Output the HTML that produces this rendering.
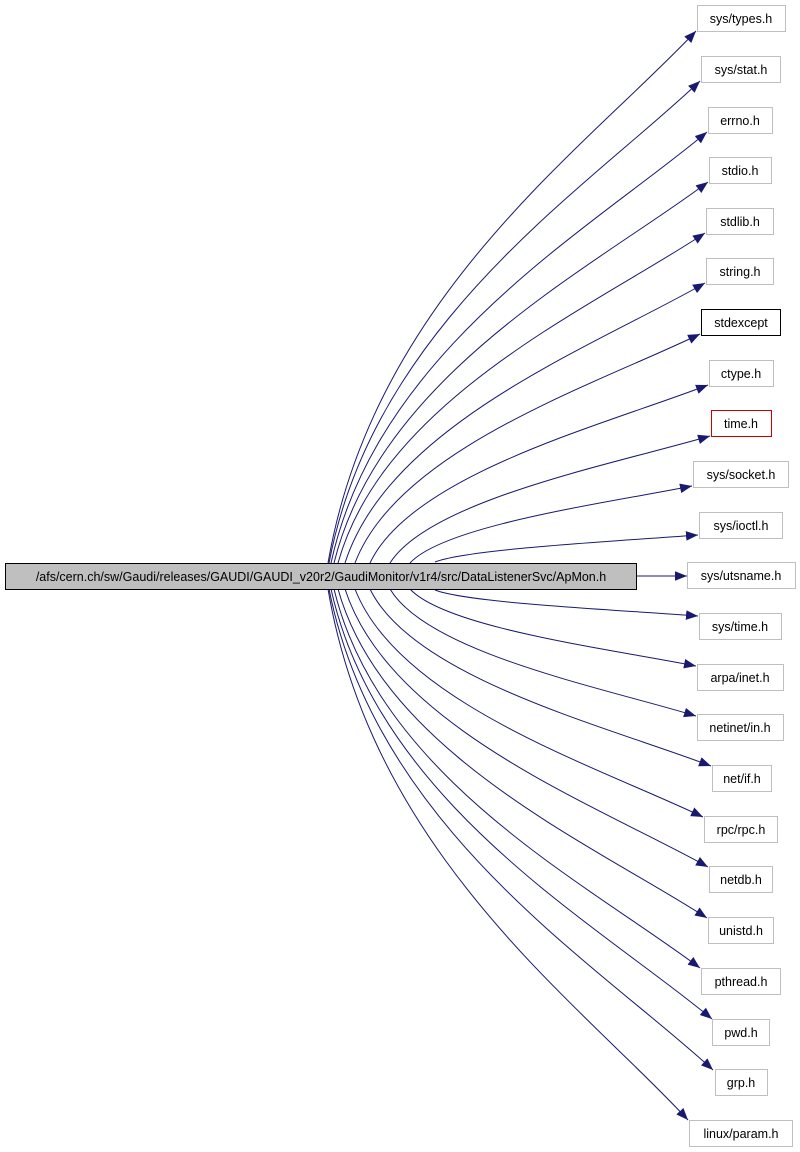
<!DOCTYPE html>
<html><head><meta charset="utf-8"><style>
body{margin:0;background:#fff;}
svg{display:block;}
text{font-family:"Liberation Sans",sans-serif;font-size:12.5px;}
</style></head><body>
<svg width="800" height="1152" viewBox="0 0 800 1152" xmlns="http://www.w3.org/2000/svg">
<defs><marker id="a" viewBox="0 0 10 8" refX="10" refY="4" markerWidth="12" markerHeight="10" markerUnits="userSpaceOnUse" orient="auto"><path d="M0,0L10,4L0,8z" fill="#191970"/></marker></defs>
<g fill="none" stroke="#191970" stroke-width="1" marker-end="url(#a)">
<path d="M637,576 L687,576"/>
<path d="M328,563 C374,297 586,148 696,31"/>
<path d="M329,563 C375,322 589,187 700,81"/>
<path d="M331,563 C378,348 594,227 707,132"/>
<path d="M334,563 C381,373 596,266 708,182"/>
<path d="M338,563 C384,398 595,306 705,233"/>
<path d="M345,563 C390,423 597,345 705,283"/>
<path d="M355,563 C398,449 597,384 700,334"/>
<path d="M370,563 C412,474 607,424 708,385"/>
<path d="M390,563 C430,500 614,464 710,436"/>
<path d="M410,563 C445,525 607,503 692,486"/>
<path d="M435,562 C468,549 619,541 698,535"/>
<path d="M435,590 C468,603 619,610 698,616"/>
<path d="M410,589 C446,628 610,649 696,666"/>
<path d="M390,589 C428,653 604,688 696,716"/>
<path d="M370,589 C413,678 609,727 711,766"/>
<path d="M355,589 C399,703 599,767 703,817"/>
<path d="M345,589 C390,728 599,806 708,867"/>
<path d="M338,589 C384,754 596,846 707,918"/>
<path d="M334,589 C380,779 590,885 700,968"/>
<path d="M331,589 C379,804 598,924 712,1019"/>
<path d="M329,589 C377,830 598,964 713,1070"/>
<path d="M328,589 C373,855 580,1003 688,1120"/>
</g>
<rect x="5.5" y="563.5" width="631" height="26" fill="#bfbfbf" stroke="#000"/>
<text x="321" y="581" text-anchor="middle">/afs/cern.ch/sw/Gaudi/releases/GAUDI/GAUDI_v20r2/GaudiMonitor/v1r4/src/DataListenerSvc/ApMon.h</text>
<g fill="#fff" stroke="#bfbfbf">
<rect x="697.5" y="5.5" width="88" height="26"/>
<rect x="701.5" y="56.5" width="79" height="26"/>
<rect x="708.5" y="107.5" width="64" height="26"/>
<rect x="709.5" y="157.5" width="62" height="26"/>
<rect x="706.5" y="208.5" width="67" height="26"/>
<rect x="706.5" y="258.5" width="67" height="26"/>
<rect x="701.5" y="309.5" width="79" height="26" stroke="#000"/>
<rect x="709.5" y="360.5" width="64" height="26"/>
<rect x="711.5" y="410.5" width="60" height="26" stroke="#c00"/>
<rect x="693.5" y="461.5" width="95" height="26"/>
<rect x="699.5" y="512.5" width="83" height="26"/>
<rect x="687.5" y="562.5" width="108" height="26"/>
<rect x="699.5" y="613.5" width="82" height="26"/>
<rect x="697.5" y="664.5" width="86" height="26"/>
<rect x="697.5" y="714.5" width="86" height="26"/>
<rect x="712.5" y="765.5" width="59" height="26"/>
<rect x="704.5" y="816.5" width="73" height="26"/>
<rect x="709.5" y="866.5" width="63" height="26"/>
<rect x="708.5" y="917.5" width="65" height="26"/>
<rect x="701.5" y="968.5" width="79" height="26"/>
<rect x="712.5" y="1019.5" width="57" height="26"/>
<rect x="715.5" y="1069.5" width="52" height="26"/>
<rect x="689.5" y="1120.5" width="103" height="26"/>
</g>
<g text-anchor="middle" fill="#000">
<text x="741" y="23">sys/types.h</text>
<text x="741" y="74">sys/stat.h</text>
<text x="740" y="125">errno.h</text>
<text x="740" y="175">stdio.h</text>
<text x="740" y="226">stdlib.h</text>
<text x="740" y="276">string.h</text>
<text x="741" y="327">stdexcept</text>
<text x="741" y="378">ctype.h</text>
<text x="741" y="428">time.h</text>
<text x="741" y="479">sys/socket.h</text>
<text x="741" y="530">sys/ioctl.h</text>
<text x="741" y="580">sys/utsname.h</text>
<text x="740" y="631">sys/time.h</text>
<text x="740" y="682">arpa/inet.h</text>
<text x="740" y="732">netinet/in.h</text>
<text x="742" y="783">net/if.h</text>
<text x="741" y="834">rpc/rpc.h</text>
<text x="741" y="884">netdb.h</text>
<text x="741" y="935">unistd.h</text>
<text x="741" y="986">pthread.h</text>
<text x="741" y="1037">pwd.h</text>
<text x="741" y="1087">grp.h</text>
<text x="741" y="1138">linux/param.h</text>
</g>
</svg>
</body></html>
